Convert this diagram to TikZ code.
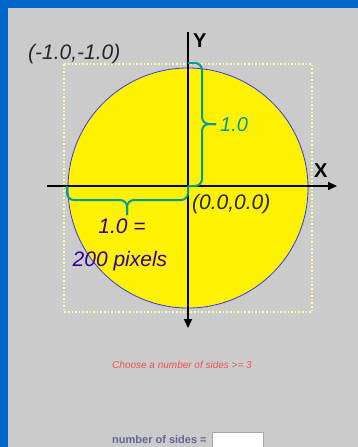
\documentclass[tikz,border=0pt]{standalone}
\usepackage{fontspec}
\setmainfont{Liberation Sans}
\usepackage{tikz}
\usetikzlibrary{arrows.meta}
\definecolor{pagegray}{RGB}{203,203,203}
\definecolor{frameblue}{RGB}{0,102,204}
\definecolor{bracecol}{RGB}{0,153,153}
\definecolor{unitcol}{RGB}{51,0,153}
\definecolor{warnred}{RGB}{240,80,80}
\definecolor{slate}{RGB}{100,100,150}
\definecolor{dotyellow}{RGB}{255,255,160}
\definecolor{rimblue}{RGB}{60,60,210}
\tikzstyle{axisline} = [line width=2pt, 
-{Triangle[length=9pt,width=8pt]}]
\tikzstyle{unitbrace} = [draw=bracecol, 
line width=2pt, 
rounded corners=7pt]
\tikzstyle{coord} = [inner sep=0pt, 
anchor=base west, 
text=black!85, 
font=\fontsize{21}{25}\selectfont\itshape]
\tikzstyle{axisname} = [inner sep=0pt, 
anchor=base west, 
font=\fontsize{20}{24}\selectfont\bfseries]
\tikzstyle{unittext} = [inner sep=0pt, 
anchor=base, 
text=unitcol, 
font=\fontsize{21}{25}\selectfont\itshape]
\tikzstyle{inputbox} = [rectangle, 
draw=black!35, 
fill=white, 
minimum width=51pt, 
minimum height=18pt, 
anchor=north west]

\begin{document}
\begin{tikzpicture}[x=1pt, y=-1pt]

% page
\fill[pagegray] (0,0) rectangle (358,447);
\useasboundingbox (0,0) rectangle (358,447);
\fill[frameblue] (0,0) rectangle (358,8);
\fill[frameblue] (0,0) rectangle (8,447);

\coordinate (O) at (188,186);
\coordinate (C) at (188,188);

\draw[dotyellow, dotted, line width=1.6pt] (64,64) rectangle (312,312);
\fill[yellow] (C) circle (120);
\draw[rimblue, line width=0.8pt] (C) circle (120);

\coordinate (ytop) at (188,32);
\coordinate (ybot) at (188,328);
\coordinate (xleft) at (47,186);
\coordinate (xright) at (337,186);
\draw [axisline] (ytop) -- (ybot);
\draw [axisline] (xleft) -- (xright);

% braces
\coordinate (rtop) at (188,63);
\coordinate (rtip) at (216,124);
\coordinate (rleft) at (67,186);
\coordinate (htip) at (127,215);
\draw [unitbrace] (rtop) -| (202,124) -- (rtip);
\draw [unitbrace] (rtip) -- (202,124) |- (O);
\draw [unitbrace] (rleft) |- (127,200) -- (htip);
\draw [unitbrace] (htip) -- (127,200) -| (O);

\node (ylab) [axisname] at (193,47) {Y};
\node (xlab) [axisname] at (314,177) {X};
\node (corner) [coord] at (28,59) {(-1.0,-1.0)};
\node (origin) [coord] at (192,209) {(0.0,0.0)};
\node (radius) [coord, text=bracecol, font=\fontsize{20}{24}\selectfont\itshape] at (220,131) {1.0};
\node (unit1) [unittext] at (122,233) {1.0 =};
\node (unit2) [unittext] at (120,266) {200 pixels};

\node (warn) [inner sep=0pt, anchor=base, text=warnred, font=\fontsize{10}{12}\selectfont\itshape] at (182,368) {Choose a number of sides >= 3};
\node (sides) [inner sep=0pt, anchor=base west, text=slate, font=\fontsize{11}{13}\selectfont\bfseries] at (112,443) {number of sides =};
\node (entry) [inputbox] at (212,432) {};

\end{tikzpicture}
\end{document}
